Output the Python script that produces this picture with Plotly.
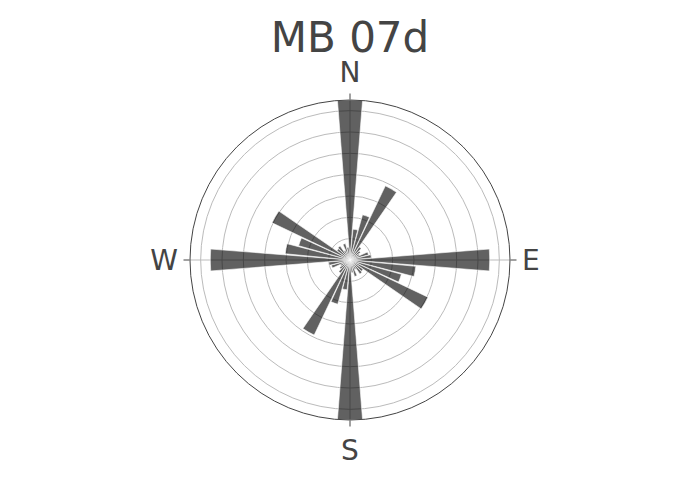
import plotly.graph_objects as go

directions = [0, 10, 20, 30, 40, 50, 60, 70, 80, 90, 100, 110, 120, 130, 140, 150, 160, 170,
              180, 190, 200, 210, 220, 230, 240, 250, 260, 270, 280, 290, 300, 310, 320, 330, 340, 350]
counts = [15.0, 2.9, 4.4, 7.7, 1.5, 1.2, 1.0, 1.8, 2.0, 13.1, 6.2, 5.0, 8.1, 1.5, 1.6, 1.0, 1.6, 1.2,
          15.0, 2.8, 4.3, 7.8, 1.5, 1.2, 1.0, 1.8, 2.0, 13.1, 6.1, 5.0, 8.1, 1.5, 1.6, 1.0, 1.6, 1.2]
tick_angles = [0, 90, 180, 270]
tick_labels = ["N", "E", "S", "W"]
title_text = "MB 07d"

fig = go.Figure(go.Barpolar(
    r=counts,
    theta=directions,
    width=[9] * len(directions),
    marker=dict(color="rgba(0,0,0,0.62)", line=dict(color="white", width=0.6)),
))

fig.update_layout(
    width=700, height=500,
    paper_bgcolor="white",
    font=dict(family="DejaVu Sans, Verdana, sans-serif", color="#444"),
    title=dict(text=title_text, x=342 / 700, xref="container", xanchor="center",
               y=1 - 29 / 500, yanchor="middle", yref="container",
               font=dict(size=42, color="#444")),
    margin=dict(l=182, r=198, t=92, b=88),
    showlegend=False,
    polar=dict(
        bgcolor="white",
        bargap=0,
        angularaxis=dict(
            direction="clockwise", rotation=90,
            tickmode="array", tickvals=tick_angles, ticktext=tick_labels,
            tickfont=dict(size=28, color="#444"),
            ticks="outside", ticklen=6, tickcolor="#444",
            showline=True, linecolor="#444", linewidth=1,
            showgrid=True, gridcolor="#bbb", gridwidth=1,
        ),
        radialaxis=dict(
            range=[0, 15], dtick=2, tick0=0,
            showticklabels=False, ticks="", showline=False,
            showgrid=True, gridcolor="#bbb", gridwidth=1,
        ),
    ),
)

fig.write_html("out.html")
